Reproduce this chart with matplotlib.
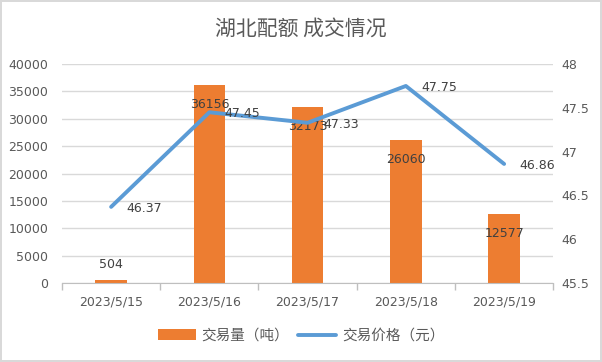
import numpy as np
import matplotlib.pyplot as plt
from matplotlib.ticker import FixedLocator, NullFormatter

plt.rcParams['font.family'] = ['DejaVu Sans', 'Noto Sans CJK SC']

dates = ['2023/5/15', '2023/5/16', '2023/5/17', '2023/5/18', '2023/5/19']
volume = [504, 36156, 32173, 26060, 12577]
price = [46.37, 47.45, 47.33, 47.75, 46.86]

grey = '#595959'
bar_color = '#ED7D31'
line_color = '#5B9BD5'

fig = plt.figure(figsize=(6.02, 3.62), dpi=100)
fig.patch.set_edgecolor('#D9D9D9')
fig.patch.set_linewidth(1.5)

ax = fig.add_axes([0.103, 0.218, 0.816, 0.605])
x = np.arange(len(dates))
bars = ax.bar(x, volume, width=0.32, color=bar_color, zorder=2, label='交易量（吨）')
ax.set_xlim(-0.5, len(dates) - 0.5)
ax.set_ylim(0, 40000)
ax.set_yticks(np.arange(0, 40001, 5000))
ax.grid(axis='y', color='#D9D9D9', linewidth=1, zorder=0)
ax.set_xticks(x)
ax.set_xticklabels(dates)
ax.xaxis.set_minor_locator(FixedLocator(np.arange(-0.5, len(dates), 1)))
ax.xaxis.set_minor_formatter(NullFormatter())
ax.tick_params(axis='x', which='major', length=0, pad=9, labelsize=9, labelcolor=grey)
ax.tick_params(axis='x', which='minor', length=5, color='#BFBFBF', width=1)
ax.tick_params(axis='y', length=0, pad=10, labelsize=9, labelcolor=grey)
for s in ['top', 'right', 'left']:
    ax.spines[s].set_visible(False)
ax.spines['bottom'].set_color('#BFBFBF')

for xi, v in zip(x, volume):
    if v < 3000:
        ax.annotate(str(v), (xi, v), xytext=(0, 7), textcoords='offset points',
                    ha='center', va='bottom', fontsize=9, color='#404040')
    else:
        ax.annotate(str(v), (xi, v), xytext=(0, -14), textcoords='offset points',
                    ha='center', va='center', fontsize=9, color='#404040')

ax2 = ax.twinx()
line, = ax2.plot(x, price, color=line_color, linewidth=2.8, solid_capstyle='round',
                 zorder=3, label='交易价格（元）')
ax2.set_ylim(45.5, 48)
ax2.set_yticks([45.5, 46, 46.5, 47, 47.5, 48])
ax2.set_yticklabels(['45.5', '46', '46.5', '47', '47.5', '48'])
ax2.tick_params(axis='y', length=0, pad=6, labelsize=9, labelcolor=grey)
for s in ax2.spines.values():
    s.set_visible(False)
for xi, p in zip(x, price):
    ax2.annotate(f'{p:.2f}', (xi, p), xytext=(11, -1), textcoords='offset points',
                 ha='left', va='center', fontsize=9, color='#404040')

fig.text(0.5, 0.92, '湖北配额 成交情况', ha='center', va='center', fontsize=15,
         color=grey, family=['Noto Sans CJK SC'])

fig.legend([bars, line], ['交易量（吨）', '交易价格（元）'], loc='center',
           bbox_to_anchor=(0.5, 0.072), ncol=2, frameon=False,
           labelcolor=grey, handlelength=2.6, handleheight=0.8, handletextpad=0.4,
           columnspacing=0.6, prop={'family': ['Noto Sans CJK SC'], 'size': 10.5})

fig.savefig('out.png', dpi=100, edgecolor=fig.get_edgecolor())
